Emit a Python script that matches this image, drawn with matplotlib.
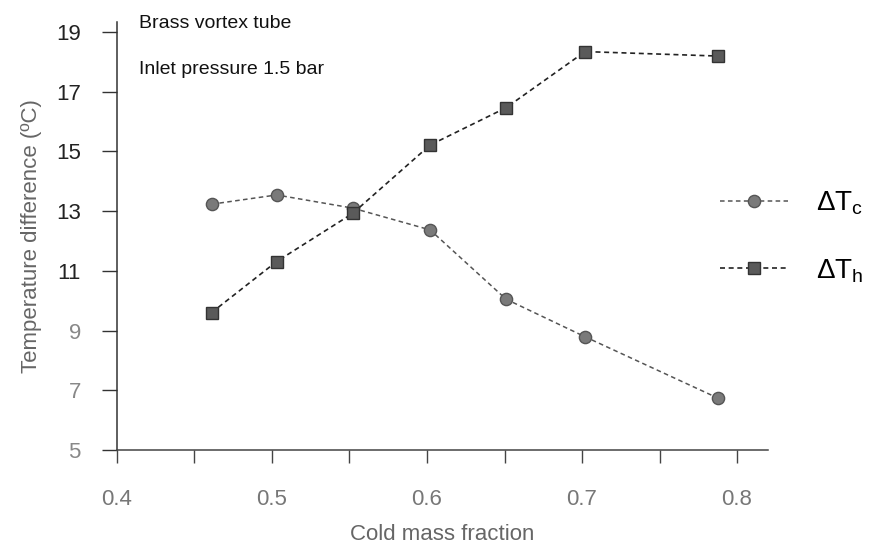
import matplotlib
matplotlib.use("Agg")
import matplotlib.pyplot as plt
from matplotlib.ticker import MultipleLocator

plt.rcParams['font.family'] = ['Liberation Sans', 'DejaVu Sans']
plt.rcParams['mathtext.fontset'] = 'custom'
plt.rcParams['mathtext.rm'] = 'Liberation Sans'
plt.rcParams['mathtext.it'] = 'Liberation Sans'

# Cold mass fraction and measured temperature differences
cold_fraction = [0.461, 0.503, 0.552, 0.602, 0.651, 0.702, 0.788]
delta_tc = [13.23, 13.54, 13.10, 12.37, 10.05, 8.79, 6.73]
delta_th = [9.60, 11.31, 12.92, 15.21, 16.46, 18.34, 18.19]

x_ticks = [0.4, 0.5, 0.6, 0.7, 0.8]
y_ticks = [5, 7, 9, 11, 13, 15, 17, 19]

fig = plt.figure(figsize=(8.69, 5.45), dpi=100)
ax = fig.add_axes([0.1346, 0.1743, 0.7492, 0.7853])

ax.plot(cold_fraction, delta_tc, linestyle=(0, (3, 2.2)), linewidth=1.1,
        color='#555555', marker='o', markersize=8.8,
        markerfacecolor='#7a7a7a', markeredgecolor='#555555',
        markeredgewidth=1.0, label='\u0394T$_\\mathregular{c}$')
ax.plot(cold_fraction, delta_th, linestyle=(0, (3, 2.2)), linewidth=1.2,
        color='#222222', marker='s', markersize=9.2,
        markerfacecolor='#5a5a5a', markeredgecolor='#333333',
        markeredgewidth=1.0, label='\u0394T$_\\mathregular{h}$')

ax.set_xlim(0.4, 0.82)
ax.set_ylim(5, 19.33)
ax.set_xticks(x_ticks)
ax.set_xticklabels([f"{v:.1f}" for v in x_ticks])
ax.xaxis.set_minor_locator(MultipleLocator(0.05))
ax.set_yticks(y_ticks)
ax.set_yticklabels([str(v) for v in y_ticks])

for side in ('top', 'right'):
    ax.spines[side].set_visible(False)
ax.spines['left'].set_color('#333333')
ax.spines['bottom'].set_color('#444444')
ax.spines['left'].set_linewidth(1.1)
ax.spines['bottom'].set_linewidth(1.1)

ax.tick_params(axis='x', which='both', direction='out', length=9, width=1.0,
               color='#444444', pad=19, labelsize=16, labelcolor='#777777')
ax.tick_params(axis='y', direction='out', length=11, width=1.0,
               color='#333333', pad=15, labelsize=16)
for lbl in ax.get_yticklabels():
    v = float(lbl.get_text())
    lbl.set_color('#222222' if v >= 11 else '#888888')

ax.set_xlabel('Cold mass fraction', fontsize=16, color='#666666', labelpad=10)
ax.set_ylabel('Temperature difference (\u00baC)', fontsize=16,
              color='#666666', labelpad=10)

fig.text(0.160, 0.948, 'Brass vortex tube', fontsize=14, color='#111111',
         ha='left', va='baseline')
fig.text(0.160, 0.864, 'Inlet pressure 1.5 bar', fontsize=14,
         color='#111111', ha='left', va='baseline')

fig.legend(loc='center left', bbox_to_anchor=(0.8285, 0.5650), frameon=False,
           fontsize=20, handlelength=2.45, handletextpad=1.0,
           labelspacing=1.45, borderpad=0, borderaxespad=0)

fig.savefig('out.png', dpi=100)
